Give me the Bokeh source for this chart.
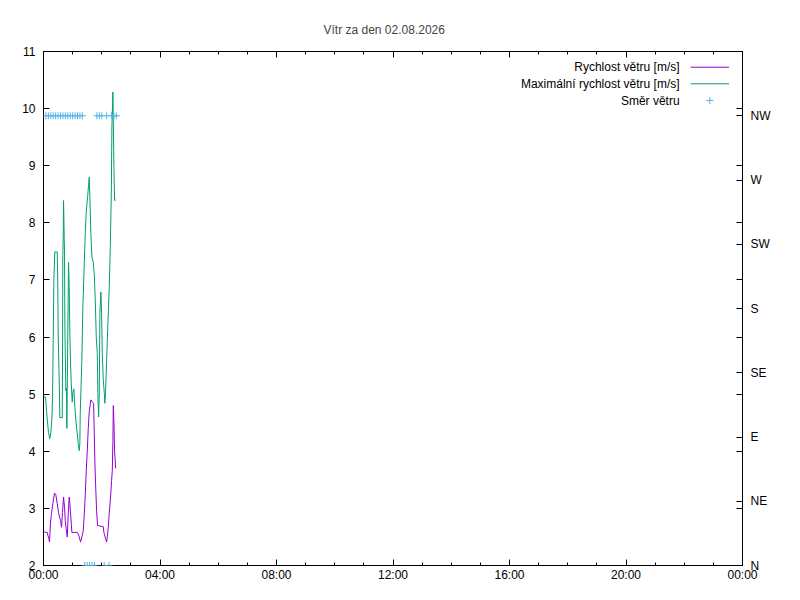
from bokeh.plotting import figure
from bokeh.models import Range1d, LinearAxis, FixedTicker
from bokeh.core.properties import value
from bokeh.embed import file_html
from bokeh.resources import INLINE

TITLE = "Vítr za den 02.08.2026"
SERIES_NAMES = ["Rychlost větru [m/s]", "Maximální rychlost větru [m/s]", "Směr větru"]

# minutes after midnight, speed in m/s
speed_min = [0, 3.5, 7.6, 9.3, 10.9, 12.4, 14.4, 16.5, 19.2, 22.7, 25.4, 28.3, 31, 33, 35.1,
             37.1, 39.2, 41.3, 43.3, 44.8, 46.8, 48.9, 51, 53, 54.3, 56.3, 58.4, 69.5, 71.6,
             73.7, 76.3, 79, 81.9, 84, 86, 88.1, 90.2, 92.2, 94.3, 97.6, 101.1, 103.2, 104.6,
             105.9, 107.3, 109.4, 111.4, 123.2, 124.4, 127.9, 130, 131.4, 133.5, 135.5, 138.2,
             140.3, 141.7, 143, 143.8, 145.1, 146.5, 148.6]
speed_val = [2.6, 2.58, 2.58, 2.52, 2.48, 2.41, 2.76, 2.91, 3.08, 3.27, 3.24, 3.08, 2.93, 2.85, 2.79,
             2.67, 2.93, 3.2, 3.02, 2.79, 2.64, 2.5, 2.9, 3.2, 3.08, 2.85, 2.58, 2.58, 2.55,
             2.5, 2.41, 2.5, 2.61, 2.9, 3.23, 3.66, 4.01, 4.4, 4.7, 4.9, 4.86, 4.84, 4.3,
             3.8, 3.43, 2.96, 2.7, 2.68, 2.58, 2.47, 2.41, 2.5, 2.67, 2.93, 3.2,
             3.49, 3.66, 4.19, 4.8, 4.51, 4.0, 3.7]

gust_min = [0, 4.1, 6.2, 8.3, 10.3, 13, 15.1, 17.1, 18.6, 20, 21.3, 23.3, 28.3, 29.3, 30.3, 33,
            33.6, 38.6, 39.2, 39.8, 40.6, 41.3, 42.7, 43.3, 44, 46, 47.5, 48.1, 48.9, 50.1,
            51.6, 53, 54.3, 55.7, 57.1, 59.2, 60.5, 62.5, 64.6, 66.6, 69.5, 71.6, 73.7, 74.9,
            75.7, 79, 81.1, 84, 86, 88.1, 90.8, 92.8, 94.3, 95.5, 97.6, 99.7, 102.5, 104.6,
            106.7, 108.7, 110.8, 112, 113.5, 114.9, 116.2, 118.2, 119.7, 121.1, 123.2, 125.2,
            126.5, 127.9, 130, 132.7, 135.5, 137.6, 139.7, 140.9, 143, 143.8, 145.1, 146.5, 148.6]
gust_val = [4.95, 4.95, 4.71, 4.51, 4.33, 4.22, 4.33, 4.54, 4.92, 5.94, 6.99, 7.49, 7.49, 6.99, 6.0, 5.0,
            4.59, 4.59, 5.53, 7.43, 7.72, 8.39, 7.72, 7.49, 6.23, 5.06, 5.1, 4.4, 5.06, 6.1,
            7.31, 6.87, 6.06, 5.53, 5.21, 4.86, 5.03, 5.09, 4.77, 4.54, 4.31, 4.13, 4.01, 4.13,
            4.66, 5.59, 6.52, 7.29, 7.81, 8.19, 8.45, 8.65, 8.8, 8.45, 7.81, 7.4, 7.31, 7.1,
            6.64, 6.0, 5.71, 5.01, 4.6, 5.01, 6.41, 6.79, 6.41, 5.71, 5.24, 5.03,
            4.84, 5.06, 5.59, 6.23, 6.87, 7.57, 8.51, 9.68, 10.29, 9.79, 8.97, 8.39, 8.4]

dir_min = [5, 10, 15, 20, 25, 30, 35, 40, 45, 50, 55, 60, 65, 70, 75, 80, 85, 90, 95, 100,
           105, 110, 115, 120, 125, 130, 135, 140, 145, 150]
dir_deg = [315, 315, 315, 315, 315, 315, 315, 315, 315, 315, 315, 315, 315, 315, 315, 315,
           0, 0, 0, 0, 0, 315, 315, 315, 0, 315, 0, 315, 315, 315]

x_ticks = [0, 4, 8, 12, 16, 20, 24]
x_tick_labels = ["00:00", "04:00", "08:00", "12:00", "16:00", "20:00", "00:00"]
y_ticks = [2, 3, 4, 5, 6, 7, 8, 9, 10, 11]
dir_ticks = [0, 45, 90, 135, 180, 225, 270, 315]
dir_labels = ["N", "NE", "E", "SE", "S", "SW", "W", "NW"]

PURPLE = "#9400D3"
GREEN = "#009E73"
CYAN = "#56B4E9"
FONT = "Liberation Sans"
FS = "12px"

p = figure(width=784, height=584, x_range=Range1d(0, 24), y_range=Range1d(2, 11),
           output_backend="svg", toolbar_location=None,
           min_border_left=43, min_border_right=42, min_border_top=51, min_border_bottom=19)
p.extra_y_ranges = {"dir": Range1d(0, 360)}
p.grid.visible = False
p.outline_line_color = "black"
p.outline_line_width = 1
p.background_fill_color = "white"
p.border_fill_color = "white"

p.title.text = TITLE
p.title.align = "left"
p.title.offset = 280
p.title.standoff = 29
p.title.text_font = FONT
p.title.text_font_size = FS
p.title.text_font_style = "normal"

def style_axis(ax, standoff=8):
    ax.axis_line_color = None
    ax.major_tick_in = 6
    ax.major_tick_out = 0
    ax.minor_tick_in = 3
    ax.minor_tick_out = 0
    ax.major_tick_line_color = "black"
    ax.minor_tick_line_color = "black"
    ax.major_label_text_font = FONT
    ax.major_label_text_font_size = FS
    ax.major_label_text_color = "black"
    ax.major_label_standoff = standoff

hours = list(range(0, 25))

xb = p.xaxis[0]
xb.ticker = FixedTicker(ticks=x_ticks, minor_ticks=hours)
xb.major_label_overrides = {t: l for t, l in zip(x_ticks, x_tick_labels)}
style_axis(xb, standoff=2)

# mirrored ticks on the top edge (no labels): hourly short ticks, 4-hourly long ticks
for mt, ln in ((hours, 3), (x_ticks, 6)):
    xt = LinearAxis(ticker=FixedTicker(ticks=[], minor_ticks=mt))
    xt.axis_line_color = None
    xt.major_tick_in = 0
    xt.major_tick_out = 0
    xt.minor_tick_in = ln
    xt.minor_tick_out = 0
    xt.minor_tick_line_color = "black"
    xt.major_label_standoff = 0
    p.add_layout(xt, "above")

yl = p.yaxis[0]
yl.ticker = FixedTicker(ticks=y_ticks, minor_ticks=[])
style_axis(yl)

# right axis: direction labels; the left axis' ticks mirrored as unlabeled minor ticks
mirror = [(v - 2) * 40 for v in y_ticks]
yr = LinearAxis(y_range_name="dir", ticker=FixedTicker(ticks=dir_ticks, minor_ticks=mirror))
yr.major_label_overrides = {t: l for t, l in zip(dir_ticks, dir_labels)}
style_axis(yr)
yr.minor_tick_in = 6
p.add_layout(yr, "right")

sx = [m / 60 for m in speed_min]
gx = [m / 60 for m in gust_min]
dx = [m / 60 for m in dir_min]
p.line(sx, speed_val, line_color=PURPLE, line_width=1)
p.line(gx, gust_val, line_color=GREEN, line_width=1)
p.scatter(dx, dir_deg, y_range_name="dir", marker="cross", size=7, line_color=CYAN, line_width=1)

# legend (text right aligned, sample on the right, like the original)
lx_text = 21.84
lx0, lx1 = 22.22, 23.54
ly = [10.725, 10.435, 10.142]
p.text(x=[lx_text] * 3, y=ly, text=SERIES_NAMES, text_align="right", text_baseline="middle",
       text_font=value(FONT), text_font_size=FS, text_color="black")
p.segment(x0=[lx0], y0=[ly[0]], x1=[lx1], y1=[ly[0]], line_color=PURPLE, line_width=1)
p.segment(x0=[lx0], y0=[ly[1]], x1=[lx1], y1=[ly[1]], line_color=GREEN, line_width=1)
p.scatter(x=[(lx0 + lx1) / 2], y=[ly[2]], marker="cross", size=7, line_color=CYAN, line_width=1)

open("out.html", "w").write(file_html(p, INLINE))
